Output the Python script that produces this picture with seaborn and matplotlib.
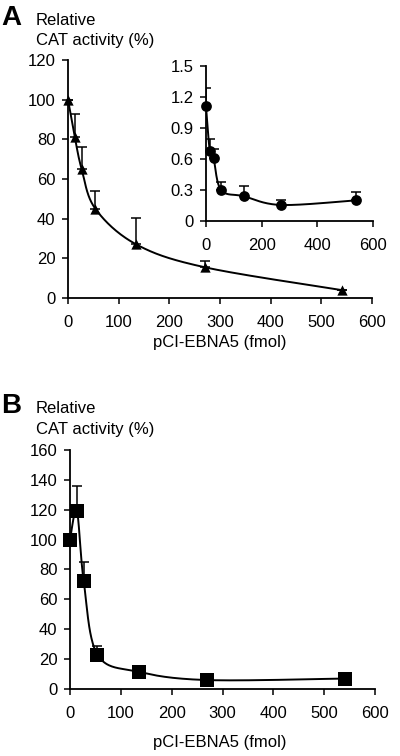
import numpy as np
import matplotlib as mpl
mpl.use('Agg')
import matplotlib.pyplot as plt
import seaborn as sns

sns.set_style('ticks')
plt.rcParams['font.family'] = ['Liberation Sans', 'DejaVu Sans']
plt.rcParams['font.size'] = 12
plt.rcParams['text.color'] = 'black'

# data
dose = [0, 13.5, 27, 54, 135, 270, 540]
cat_a = [100, 81, 65, 45, 27, 15.5, 4]
err_a = [0, 12, 11, 9, 13.5, 3, 0]
cat_inset = [1.11, 0.68, 0.61, 0.30, 0.24, 0.155, 0.20]
err_inset = [0.18, 0.11, 0.09, 0.075, 0.10, 0.045, 0.08]
cat_b = [100, 119, 72, 23, 11.5, 6, 7]
err_b = [0, 17, 13, 6, 0, 0, 2]

xticks_main = [0, 100, 200, 300, 400, 500, 600]
xticks_inset = [0, 200, 400, 600]


def smooth(x, y, sx, sy, n=40):
    # spreadsheet-style smoothed line: bezier segments computed in screen units
    P = np.column_stack([np.asarray(x, float) / sx, np.asarray(y, float) / sy])
    Pm = np.vstack([P[0], P, P[-1]])
    t = np.linspace(0, 1, n)[:, None]
    segs = []
    for i in range(len(P) - 1):
        p0, p1, p2, p3 = Pm[i], Pm[i + 1], Pm[i + 2], Pm[i + 3]
        c1 = p1 + (p2 - p0) / 6
        c2 = p2 - (p3 - p1) / 6
        segs.append((1 - t)**3 * p1 + 3 * (1 - t)**2 * t * c1 + 3 * (1 - t) * t**2 * c2 + t**3 * p2)
    S = np.vstack(segs)
    return S[:, 0] * sx, S[:, 1] * sy


def panel(ax, y, err, marker, ms, ylim, yticks, xticks, sx, sy):
    cx, cy = smooth(dose, y, sx, sy)
    sns.lineplot(x=cx, y=cy, ax=ax, color='black', lw=1.4, sort=False, estimator=None)
    ax.errorbar(dose, y, yerr=[np.zeros(len(err)), err], fmt='none', ecolor='black',
                elinewidth=1.1, capsize=3.5, capthick=1.1)
    sns.scatterplot(x=dose, y=y, ax=ax, marker=marker, s=ms, color='black',
                    edgecolor='black', linewidth=0, zorder=5, clip_on=False)
    ax.set_xlim(0, 600)
    ax.set_ylim(*ylim)
    ax.set_xticks(xticks)
    ax.set_yticks(yticks)
    ax.set_xlabel('')
    ax.set_ylabel('')
    ax.tick_params(direction='out', length=4, width=1.1, colors='black', labelsize=12, pad=5)
    ax.tick_params(axis='x', pad=8)
    for s in ['left', 'bottom']:
        ax.spines[s].set_linewidth(1.3)
        ax.spines[s].set_color('black')
    sns.despine(ax=ax)
    ax.patch.set_alpha(0)


fig = plt.figure(figsize=(4, 7.56), dpi=100)

ax_a = fig.add_axes([0.17, 0.6058, 0.76, 0.3148])
panel(ax_a, cat_a, err_a, '^', 55, (0, 120), [0, 20, 40, 60, 80, 100, 120], xticks_main,
      600 / 304, 120 / 238)

ax_in = fig.add_axes([0.515, 0.7077, 0.4175, 0.205])
panel(ax_in, cat_inset, err_inset, 'o', 60, (0, 1.5), [0, 0.3, 0.6, 0.9, 1.2, 1.5], xticks_inset,
      600 / 167, 1.5 / 155)
ax_in.set_yticklabels(['0', '0.3', '0.6', '0.9', '1.2', '1.5'])

ax_b = fig.add_axes([0.175, 0.0886, 0.7625, 0.3162])
panel(ax_b, cat_b, err_b, 's', 110, (0, 160), [0, 20, 40, 60, 80, 100, 120, 140, 160], xticks_main,
      600 / 305, 160 / 239)

fig.text(0.003, 0.976, 'A', fontsize=20, fontweight='bold', va='center', ha='left')
fig.text(0.09, 0.973, 'Relative', va='center', ha='left')
fig.text(0.09, 0.946, 'CAT activity (%)', va='center', ha='left')
fig.text(0.55, 0.5476, 'pCI-EBNA5 (fmol)', va='center', ha='center')

fig.text(0.003, 0.463, 'B', fontsize=20, fontweight='bold', va='center', ha='left')
fig.text(0.09, 0.459, 'Relative', va='center', ha='left')
fig.text(0.09, 0.4325, 'CAT activity (%)', va='center', ha='left')
fig.text(0.55, 0.0185, 'pCI-EBNA5 (fmol)', va='center', ha='center')

fig.savefig('out.png', dpi=100, facecolor='white')
